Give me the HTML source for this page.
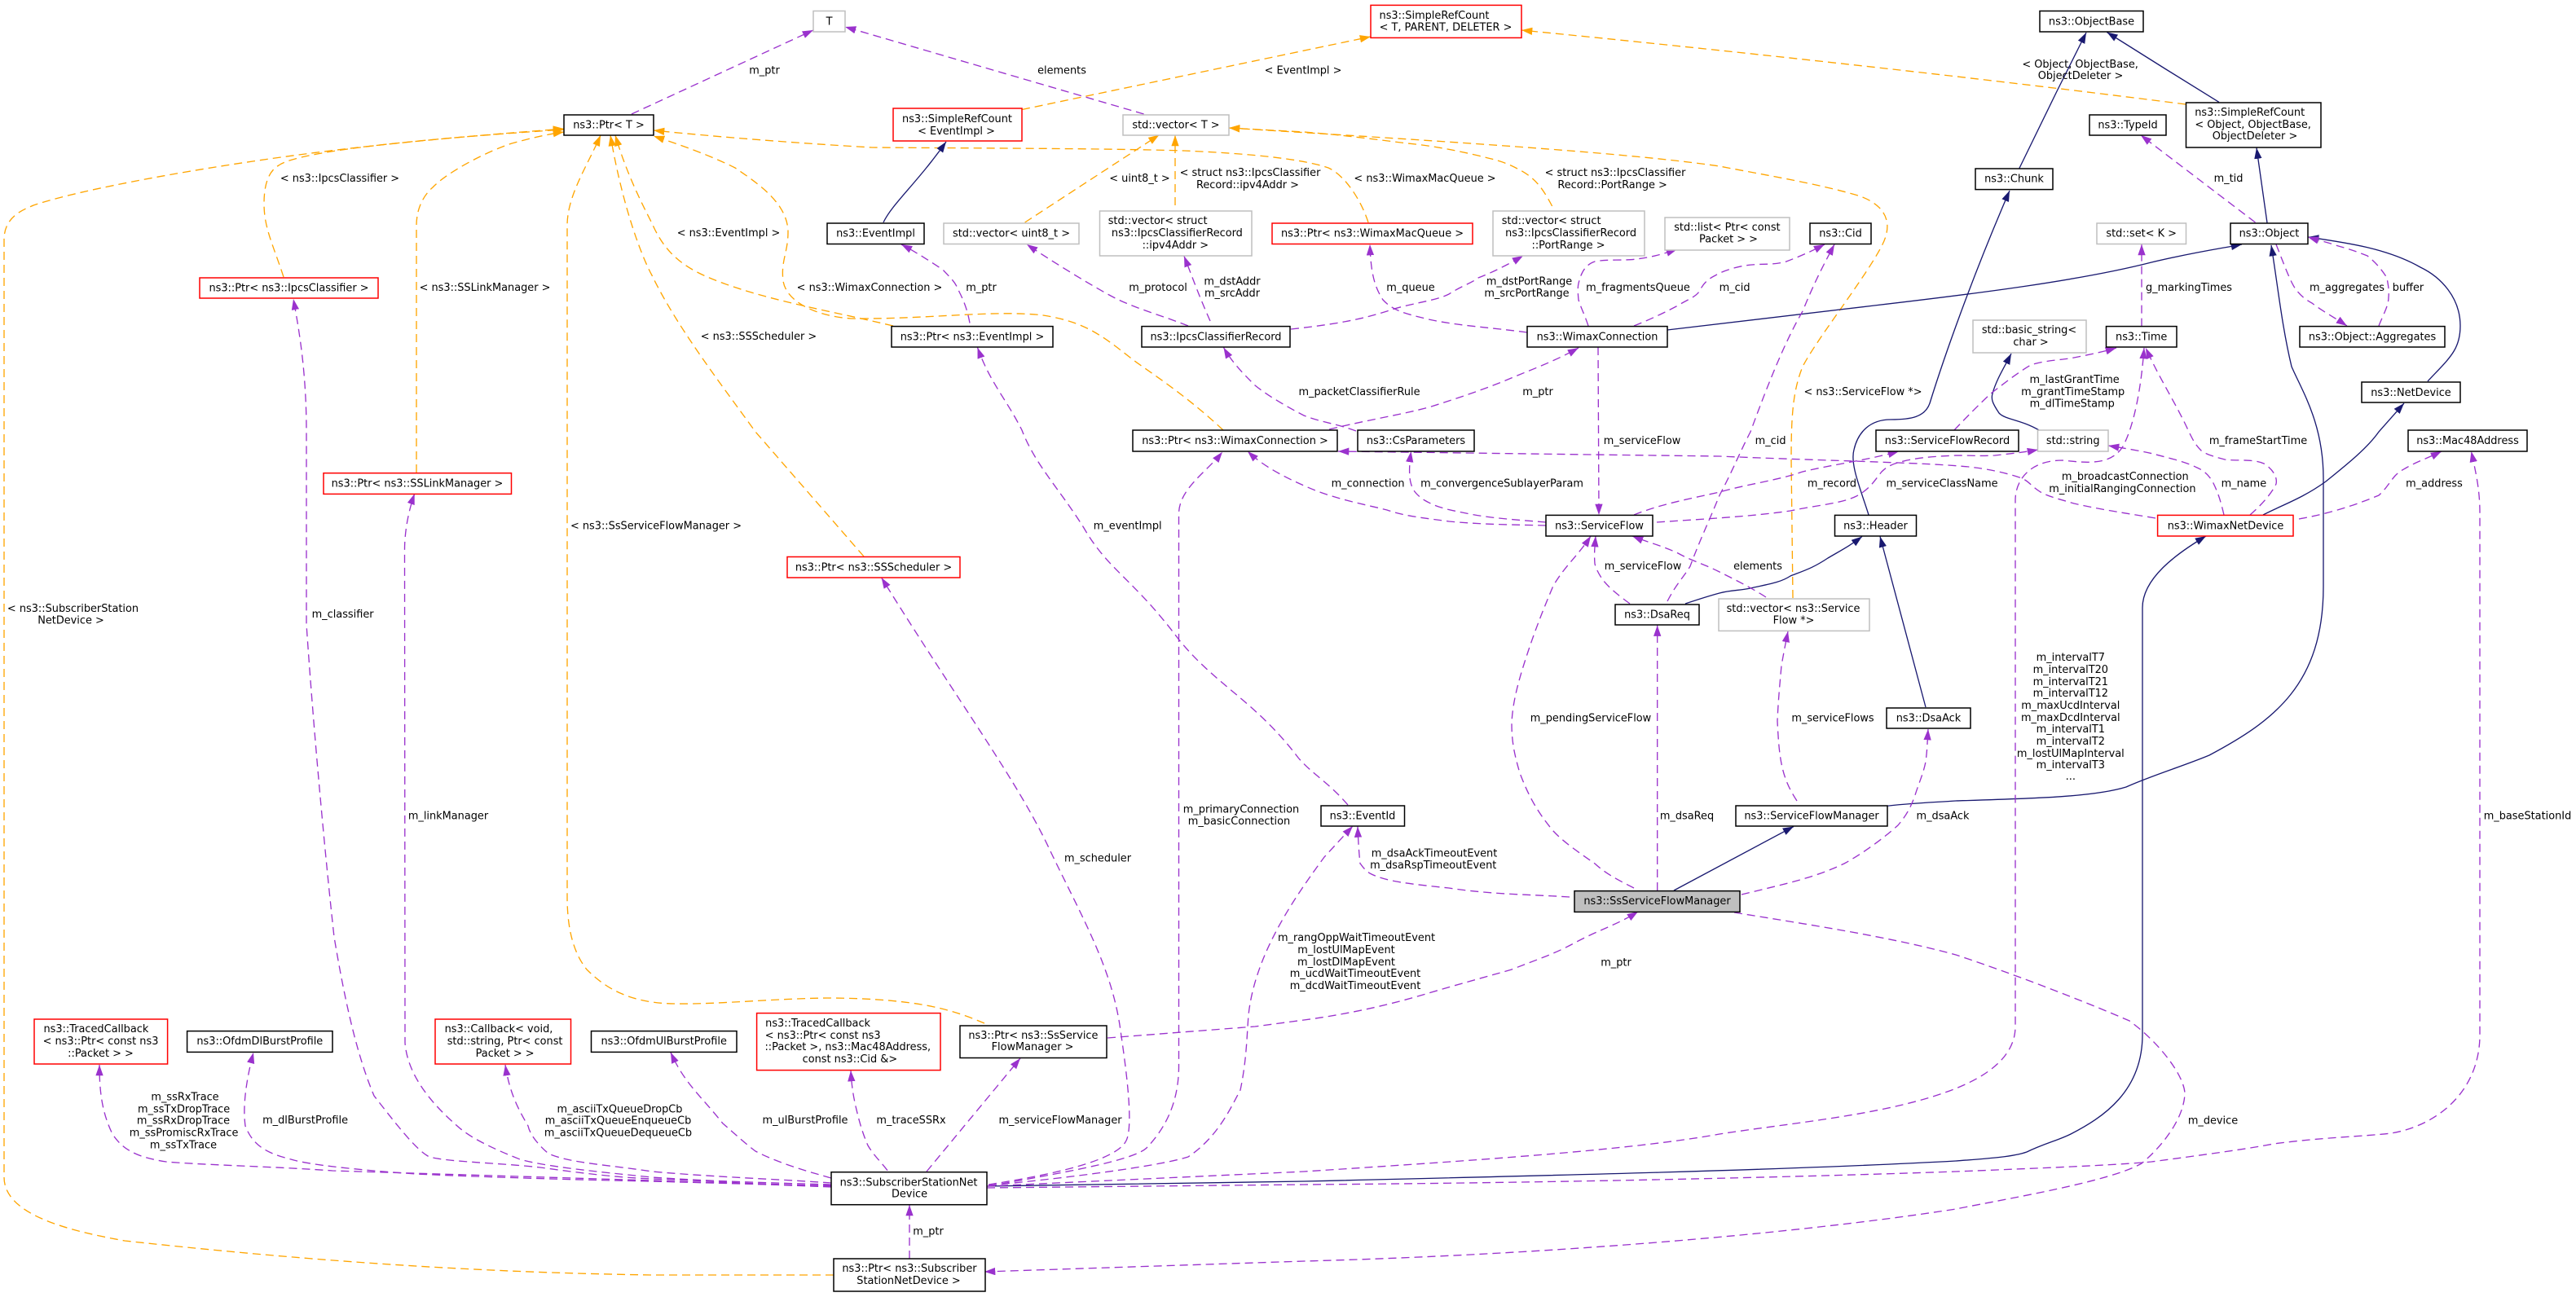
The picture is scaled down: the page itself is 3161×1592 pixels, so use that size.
<!DOCTYPE html>
<html><head><meta charset="utf-8"><style>
html,body{margin:0;padding:0;background:#fff}
svg{display:block}
text{font-family:"DejaVu Sans","Liberation Sans",sans-serif;font-size:12.9px;fill:#000;text-anchor:middle}
</style></head><body>
<svg xmlns="http://www.w3.org/2000/svg" width="3161" height="1592" viewBox="0 0 3161 1592">
<defs>
<marker id="p" markerUnits="userSpaceOnUse" markerWidth="14" markerHeight="10" refX="13.3" refY="4.67" orient="auto"><path d="M0,0L13.3,4.67L0,9.33z" fill="#9a32cd"/></marker>
<marker id="o" markerUnits="userSpaceOnUse" markerWidth="14" markerHeight="10" refX="13.3" refY="4.67" orient="auto"><path d="M0,0L13.3,4.67L0,9.33z" fill="#ffa500"/></marker>
<marker id="n" markerUnits="userSpaceOnUse" markerWidth="14" markerHeight="10" refX="13.3" refY="4.67" orient="auto"><path d="M0,0L13.3,4.67L0,9.33z" fill="#191970"/></marker>
</defs>
<rect width="3161" height="1592" fill="#fff"/>

<g fill="none" stroke="#ffa500" stroke-width="1.33" stroke-dasharray="10,6" marker-end="url(#o)">
<path d="M1254,134.5L1682,45"/>
<path d="M2682,128C2400,92 2100,60 1867,37"/>
<path d="M348,340C335,300 324,280 324,250C324,225 330,210 342,203C360,190 450,175 692,159"/>
<path d="M1023,1565L800,1565C600,1562 400,1550 153,1523C80,1510 5,1490 5,1445L5,294C5,265 30,257 41,252C100,232 250,205 382,188C480,175 600,165 692,158"/>
<path d="M511,580L511,277C511,250 525,235 531,230C550,210 600,185 628,176C650,170 670,165 692,162"/>
<path d="M1208,1256C1170,1240 1130,1226 1020,1225C960,1225 880,1233 830,1232C770,1232 740,1210 720,1190C700,1165 696,1130 696,1100L696,277C696,240 720,205 737,166"/>
<path d="M1060,683L927,530C880,465 830,400 800,338C790,320 765,260 749,166"/>
<path d="M1096,400C1020,382 960,372 900,352C850,335 820,320 800,274C785,245 768,210 755,166"/>
<path d="M1501,528C1450,480 1400,450 1387,439C1350,410 1330,395 1280,387C1220,380 1140,392 1045,391C1000,388 965,370 961,345C958,320 967,310 967,285C967,250 930,225 902,206C870,190 835,178 802,167"/>
<path d="M1257.6,273L1422.4,165.6"/>
<path d="M1442,252L1442,166"/>
<path d="M1679,273C1670,245 1650,215 1630,206C1590,192 1500,187 1453,185C1350,182 1200,182 1070,181C1000,177 900,170 802,160"/>
<path d="M1904.6,253C1890,225 1880,216 1860,206C1845,198 1830,195 1814,191C1780,183 1750,178 1727,176C1680,170 1640,165 1600,162L1508,157"/>
<path d="M2200,734L2198,564C2198,510 2200,480 2212,450C2230,415 2290,340 2310,300C2325,270 2310,250 2280,240C2230,225 2150,212 2110,204C2000,188 1800,175 1508,157"/>
</g>

<g fill="none" stroke="#191970" stroke-width="1.33" marker-end="url(#n)">
<path d="M1084,273C1095,250 1125,225 1161,174"/>
<path d="M2477.7,207L2524,112L2560,40"/>
<path d="M2723,125.4L2657,84.5L2585.4,39.5"/>
<path d="M2782,273.5L2769,181.5"/>
<path d="M2046,405L2300,375C2420,361 2550,345 2640,322C2690,310 2725,305 2751,300"/>
<path d="M2293,632C2283,600 2270,570 2275,552C2280,530 2295,515 2320,515C2345,515 2362,512 2368,495C2385,440 2420,340 2466,234"/>
<path d="M2310,990C2340,986 2370,985 2400,983C2500,980 2570,978 2609,966C2640,952 2680,940 2711,927C2790,885 2851,840 2851,720L2851,587C2851,520 2825,480 2812,450C2800,400 2795,350 2787,301"/>
<path d="M2777,632C2800,620 2825,612 2854,591C2880,570 2905,550 2919,530L2950,495"/>
<path d="M2979,468C3005,440 3019,430 3019,400C3019,365 2995,340 2970,328C2930,305 2880,298 2832,291"/>
<path d="M1211,1456L1600,1450C1900,1443 2200,1436 2400,1425C2440,1422 2470,1420 2487,1414C2510,1403 2525,1400 2541,1392C2580,1372 2629,1340 2629,1270L2629,746C2629,710 2670,680 2707,658"/>
<path d="M2054,1093L2201,1014.5"/>
<path d="M2068,741C2080,737 2095,732 2110,728C2125,724 2135,725 2148,722C2170,717 2185,715 2197,707C2215,700 2225,697 2243,685C2260,675 2270,670 2285,658.5"/>
<path d="M2363,868L2307,658.5"/>
<path d="M2502,528C2480,515 2460,515 2453,507C2445,495 2443,490 2445,483C2450,465 2460,450 2468,434"/>
</g>

<g fill="none" stroke="#9a32cd" stroke-width="1.33" stroke-dasharray="10,6" marker-end="url(#p)">
<path d="M775,140L998,37"/>
<path d="M1403.6,140L1037,33"/>
<path d="M1654,988C1630,960 1610,950 1593,930C1540,860 1490,840 1445,783C1390,710 1360,700 1330,648C1300,600 1270,570 1254,528C1235,490 1215,470 1199.5,426.6"/>
<path d="M1190,396.5C1187,380 1183,370 1177,358C1172,345 1165,340 1157,331C1140,320 1125,310 1106,300"/>
<path d="M1458,400C1420,385 1390,378 1361,362C1330,345 1290,320 1260,300"/>
<path d="M1485,394C1470,360 1465,345 1453,314.4"/>
<path d="M1874,408C1830,402 1790,400 1753,392C1725,385 1710,382 1697,368C1685,350 1682,330 1681,300"/>
<path d="M1584,404C1640,398 1670,392 1702,382C1730,372 1760,370 1778,361C1795,350 1805,348 1814,341C1830,335 1850,325 1869,314"/>
<path d="M1949,400C1944,385 1940,378 1937,368C1936,358 1936,352 1937,348C1940,335 1945,325 1957,321C1970,318 1995,320 2008,318C2025,316 2040,312 2058,306"/>
<path d="M2005,400C2025,392 2040,385 2059,375C2070,368 2080,365 2085,358C2090,348 2095,343 2105,338C2115,332 2130,328 2141,326C2160,323 2175,326 2192,321C2205,316 2220,310 2239,300"/>
<path d="M2046,738C2058,715 2065,710 2074,695C2085,665 2097,640 2110,608C2125,580 2135,555 2148,530C2170,470 2190,420 2212,382C2225,350 2235,330 2251,300"/>
<path d="M1631,527C1680,515 1715,510 1753,500C1785,490 1815,480 1845,468C1875,455 1905,445 1937,427"/>
<path d="M1961,426L1962,632"/>
<path d="M1664,529C1640,520 1620,518 1600,510C1575,497 1555,485 1540,473C1525,458 1512,445 1501.5,426.6"/>
<path d="M1897,645C1860,644 1820,644 1778,640C1750,636 1725,634 1702,626C1670,618 1635,612 1600,596C1575,585 1550,572 1531,554"/>
<path d="M1897,641C1860,638 1830,636 1804,631C1780,626 1765,624 1748,614C1736,606 1732,600 1730,587C1729,575 1730,565 1731.6,554"/>
<path d="M2005,632C2040,618 2075,612 2110,604C2145,594 2180,590 2212,579C2250,570 2290,565 2330,554"/>
<path d="M2033,641C2090,637 2150,634 2197,627C2230,620 2260,618 2278,609C2295,600 2300,590 2309,579C2318,570 2328,568 2340,565C2365,560 2385,560 2400,559C2420,559 2430,560 2448,559C2465,557 2485,555 2501,552"/>
<path d="M2645,636C2610,630 2580,626 2545,618C2525,612 2515,610 2504,604C2490,595 2490,590 2478,586C2460,580 2440,576 2424,574C2380,568 2250,566 2110,560C1950,558 1800,556 1642,554"/>
<path d="M2000,741C1985,730 1975,722 1967,712C1960,702 1958,696 1957,692C1956,680 1957,670 1958,658"/>
<path d="M2167,733C2150,722 2130,712 2110,702C2090,692 2075,688 2059,679C2040,670 2020,665 2003,658"/>
<path d="M2005,1090C1985,1080 1970,1072 1957,1060C1940,1048 1920,1035 1906,1020C1885,995 1875,975 1865,949C1858,925 1855,910 1855,888C1856,860 1865,830 1875,800C1885,770 1895,745 1906,719C1920,695 1938,680 1952,658"/>
<path d="M2033.7,1093L2033.7,767.6"/>
<path d="M2205,983C2195,968 2190,955 2187,942C2183,925 2182,905 2181,885C2182,860 2184,840 2186,817C2189,800 2191,790 2194,775"/>
<path d="M2137,1098C2190,1085 2225,1078 2263,1060C2285,1048 2310,1030 2329,1013C2340,1000 2345,990 2350,976C2355,960 2360,950 2363,935C2365,920 2365,910 2366,895"/>
<path d="M1926,1101C1880,1098 1830,1098 1778,1090C1730,1085 1700,1082 1681,1072C1672,1066 1670,1060 1669,1060C1668,1050 1667,1040 1666,1014.5"/>
<path d="M1213,1454C1290,1442 1370,1425 1382,1400C1392,1380 1380,1300 1375,1265C1365,1190 1330,1130 1290,1047C1250,960 1180,868 1081.6,709"/>
<path d="M1213,1456C1300,1440 1390,1425 1407,1409C1425,1390 1446,1360 1446.5,1310L1446.5,631C1446.5,600 1480,580 1500,554.7"/>
<path d="M1213,1455C1300,1447 1420,1432 1458,1420C1495,1395 1510,1360 1522,1338C1530,1300 1530,1270 1532,1246C1540,1170 1590,1100 1625,1052L1660,1014"/>
<path d="M1137,1438L1252,1299"/>
<path d="M1089,1436.7C1080,1425 1072,1418 1065,1406C1058,1390 1054,1375 1050,1358C1046,1340 1045,1330 1044,1314"/>
<path d="M1020,1446C980,1435 950,1425 927,1413C910,1400 900,1390 887,1379C860,1345 840,1330 823,1291.8"/>
<path d="M1116,1545L1116,1479"/>
<path d="M2128,1120C2220,1135 2320,1150 2400,1172C2470,1195 2560,1230 2613,1253C2650,1280 2680,1320 2681,1342C2680,1375 2650,1410 2628,1428C2590,1450 2470,1470 2400,1484C2200,1515 1900,1540 1600,1548L1208,1561"/>
<path d="M1211,1456L1600,1438C1800,1425 2000,1412 2110,1392C2200,1378 2320,1368 2400,1336C2450,1316 2473,1290 2473,1260L2473,614C2473,590 2490,565 2531,565C2560,568 2590,572 2605,548C2620,520 2628,470 2631,427"/>
<path d="M1211,1458L1600,1454C1900,1452 2200,1445 2400,1438C2500,1434 2600,1430 2640,1426C2700,1418 2760,1410 2790,1404C2850,1396 2900,1395 2934,1391C2990,1382 3043,1340 3043,1270L3043,630C3043,600 3038,580 3032.5,554"/>
<path d="M1020,1457C950,1454 880,1452 800,1449L408,1437C340,1432 250,1430 204,1426C165,1420 150,1410 138,1392C125,1365 122,1340 122,1307"/>
<path d="M1020,1456C950,1454 870,1452 800,1450C700,1448 600,1445 510,1441C440,1436 380,1430 357,1423C325,1415 310,1405 301,1382C298,1360 301,1330 311,1292"/>
<path d="M1020,1455C950,1455 880,1450 800,1447C750,1445 700,1438 663,1433C610,1427 540,1426 525,1419C510,1410 490,1385 459,1345C440,1300 425,1240 410,1150C400,1060 385,900 376,766L376,530C376,460 368,410 360,367"/>
<path d="M1020,1454C950,1452 870,1450 800,1445C730,1438 670,1432 638,1423C600,1408 575,1395 561,1382C530,1355 500,1320 497,1280L496.5,675C496.5,650 502,625 508.7,606"/>
<path d="M1020,1452C950,1447 880,1445 800,1438C750,1430 700,1428 673,1416C660,1405 650,1392 648,1382C635,1360 625,1340 620,1307"/>
<path d="M2628,400.6L2628,300"/>
<path d="M2767.5,273L2627,166"/>
<path d="M2793,300C2803,325 2810,345 2817,355C2825,365 2830,368 2837,372C2850,382 2865,390 2880,400"/>
<path d="M2919,400C2925,385 2931,375 2931,365C2932,355 2930,348 2929,341C2922,330 2915,322 2905,314C2890,308 2880,305 2866,301C2855,297 2845,295 2832,291"/>
<path d="M2398,528C2415,510 2430,495 2443,483C2460,470 2475,458 2492,448C2510,442 2530,442 2545,439C2565,435 2580,432 2597,427"/>
<path d="M2761,632C2775,620 2788,605 2793,594C2795,585 2788,575 2778,569C2765,563 2745,566 2730,564C2715,560 2708,558 2701,553C2693,545 2690,538 2686,530C2670,495 2650,465 2633,427"/>
<path d="M2729,632C2725,615 2722,605 2715,591C2710,583 2705,578 2696,574C2680,566 2660,562 2642,557C2625,553 2605,550 2587,547"/>
<path d="M2821,637C2860,630 2890,620 2919,608C2928,600 2932,592 2939,584C2945,578 2948,577 2953,574C2965,567 2980,562 2996,554"/>
<path d="M1359,1274L1540,1260L1600,1252C1660,1244 1710,1232 1753,1219C1790,1208 1820,1200 1855,1190C1885,1178 1905,1172 1931,1158C1960,1142 1985,1135 2010,1119"/>
</g>

<g stroke-width="1.5" fill="#fff">
<g stroke="#000">
<rect x="692" y="141" width="110" height="25"/>
<rect x="1015" y="274" width="119" height="25.5"/>
<rect x="1094" y="400.6" width="198" height="25.4"/>
<rect x="1401" y="400.6" width="182" height="25.4"/>
<rect x="1390" y="528" width="251" height="26"/>
<rect x="1666" y="528" width="143" height="26"/>
<rect x="1874" y="400.6" width="172" height="25.4"/>
<rect x="2221" y="274" width="75" height="25.5"/>
<rect x="2503" y="13.5" width="127" height="25.5"/>
<rect x="2682.5" y="126" width="165.5" height="55"/>
<rect x="2564" y="141" width="94" height="25"/>
<rect x="2424" y="207" width="95" height="25.6"/>
<rect x="2737" y="274" width="95" height="25.5"/>
<rect x="2584.5" y="400.6" width="86.5" height="25.4"/>
<rect x="2822" y="400.6" width="178" height="25.4"/>
<rect x="2898" y="469" width="121" height="25"/>
<rect x="2302" y="528" width="175" height="26"/>
<rect x="2955" y="528" width="146" height="26"/>
<rect x="1897" y="632.4" width="131" height="25.6"/>
<rect x="2251.5" y="632.4" width="100" height="25.6"/>
<rect x="1982" y="742" width="103" height="25"/>
<rect x="2315" y="869" width="103" height="25"/>
<rect x="1621" y="989" width="102.5" height="25"/>
<rect x="2130" y="989" width="186" height="25"/>
<rect x="229.6" y="1265.6" width="178.4" height="25.8"/>
<rect x="725.5" y="1265.6" width="178.5" height="25.8"/>
<rect x="1178" y="1259" width="180" height="39.5"/>
<rect x="1020" y="1438.7" width="191" height="40"/>
<rect x="1023" y="1545" width="186" height="40"/>
<rect x="1932" y="1093.6" width="203" height="25.8" fill="#bfbfbf"/>
</g>
<g stroke="#bfbfbf">
<rect x="998" y="13.5" width="39" height="25.5"/>
<rect x="1378" y="141" width="130" height="25"/>
<rect x="1158" y="274" width="166" height="25.5"/>
<rect x="1349.5" y="259" width="186.5" height="55"/>
<rect x="1832" y="259" width="186" height="55"/>
<rect x="2043" y="267" width="153" height="40"/>
<rect x="2573" y="274" width="109.5" height="25.5"/>
<rect x="2421" y="393" width="139" height="40"/>
<rect x="2500.5" y="528" width="86.5" height="26"/>
<rect x="2109" y="735" width="185" height="39.4"/>
</g>
<g stroke="#f00">
<rect x="245" y="341" width="219" height="25"/>
<rect x="1096" y="133" width="158" height="40"/>
<rect x="1561" y="274" width="246" height="25.5"/>
<rect x="1682" y="6.4" width="185" height="40"/>
<rect x="2647.6" y="632.4" width="166.4" height="25.6"/>
<rect x="966" y="683.5" width="212" height="25.5"/>
<rect x="397" y="580.7" width="230.5" height="25.7"/>
<rect x="42" y="1251" width="163.6" height="55"/>
<rect x="534" y="1251" width="166.5" height="55"/>
<rect x="928.6" y="1243.6" width="225.4" height="70"/>
</g>
</g>

<g>
<text x="747" y="157.3">ns3::Ptr&lt; T &gt;</text>
<text x="354.5" y="357.5">ns3::Ptr&lt; ns3::IpcsClassifier &gt;</text>
<text x="1017.5" y="30.5">T</text>
<text x="1174.5" y="150">ns3::SimpleRefCount</text>
<text x="1173.5" y="165">&lt; EventImpl &gt;</text>
<text x="1443" y="157.3">std::vector&lt; T &gt;</text>
<text x="1074.5" y="290.5">ns3::EventImpl</text>
<text x="1241" y="290.5">std::vector&lt; uint8_t &gt;</text>
<text x="1420.6" y="275">std::vector&lt; struct</text>
<text x="1444.4" y="290">ns3::IpcsClassifierRecord</text>
<text x="1442.3" y="305">::ipv4Addr &gt;</text>
<text x="1684" y="290.5">ns3::Ptr&lt; ns3::WimaxMacQueue &gt;</text>
<text x="1193" y="417.5">ns3::Ptr&lt; ns3::EventImpl &gt;</text>
<text x="1492" y="417.5">ns3::IpcsClassifierRecord</text>
<text x="1760" y="23">ns3::SimpleRefCount</text>
<text x="1774" y="37.5">&lt; T, PARENT, DELETER &gt;</text>
<text x="1903.6" y="275">std::vector&lt; struct</text>
<text x="1927.6" y="290">ns3::IpcsClassifierRecord</text>
<text x="1924.5" y="305">::PortRange &gt;</text>
<text x="2119.4" y="283">std::list&lt; Ptr&lt; const</text>
<text x="2121" y="297.5">Packet &gt; &gt;</text>
<text x="2258.5" y="290.5">ns3::Cid</text>
<text x="1960" y="417.5">ns3::WimaxConnection</text>
<text x="1515.5" y="545">ns3::Ptr&lt; ns3::WimaxConnection &gt;</text>
<text x="1737.5" y="545">ns3::CsParameters</text>
<text x="2566.5" y="30.5">ns3::ObjectBase</text>
<text x="2760.7" y="142">ns3::SimpleRefCount</text>
<text x="2764.6" y="157">&lt; Object, ObjectBase,</text>
<text x="2767" y="171">ObjectDeleter &gt;</text>
<text x="2611" y="157.3">ns3::TypeId</text>
<text x="2471.5" y="223.5">ns3::Chunk</text>
<text x="2784.5" y="290.5">ns3::Object</text>
<text x="2627.7" y="290.5">std::set&lt; K &gt;</text>
<text x="2490" y="409">std::basic_string&lt;</text>
<text x="2492" y="424">char &gt;</text>
<text x="2627.7" y="417.5">ns3::Time</text>
<text x="2911" y="417.5">ns3::Object::Aggregates</text>
<text x="2958.5" y="486">ns3::NetDevice</text>
<text x="2389.5" y="545">ns3::ServiceFlowRecord</text>
<text x="2543.7" y="545">std::string</text>
<text x="3028" y="545">ns3::Mac48Address</text>
<text x="2731" y="649.5">ns3::WimaxNetDevice</text>
<text x="1962.5" y="649.5">ns3::ServiceFlow</text>
<text x="2301.5" y="649.5">ns3::Header</text>
<text x="2033.5" y="758.5">ns3::DsaReq</text>
<text x="2200.5" y="751">std::vector&lt; ns3::Service</text>
<text x="2201" y="765.5">Flow *&gt;</text>
<text x="2366.5" y="885.5">ns3::DsaAck</text>
<text x="1672" y="1005.5">ns3::EventId</text>
<text x="2223" y="1005.5">ns3::ServiceFlowManager</text>
<text x="1072" y="700.5">ns3::Ptr&lt; ns3::SSScheduler &gt;</text>
<text x="512" y="597.5">ns3::Ptr&lt; ns3::SSLinkManager &gt;</text>
<text x="2033.5" y="1110">ns3::SsServiceFlowManager</text>
<text x="117.9" y="1267">ns3::TracedCallback</text>
<text x="123.5" y="1282">&lt; ns3::Ptr&lt; const ns3</text>
<text x="123.5" y="1297">::Packet &gt; &gt;</text>
<text x="318.8" y="1282">ns3::OfdmDlBurstProfile</text>
<text x="612" y="1267">ns3::Callback&lt; void,</text>
<text x="619.6" y="1282">std::string, Ptr&lt; const</text>
<text x="619.6" y="1297">Packet &gt; &gt;</text>
<text x="814.7" y="1282">ns3::OfdmUlBurstProfile</text>
<text x="1003.6" y="1260">ns3::TracedCallback</text>
<text x="1009.7" y="1275">&lt; ns3::Ptr&lt; const ns3</text>
<text x="1040.3" y="1289">::Packet &gt;, ns3::Mac48Address,</text>
<text x="1042.9" y="1304">const ns3::Cid &amp;&gt;</text>
<text x="1267.9" y="1275">ns3::Ptr&lt; ns3::SsService</text>
<text x="1267" y="1289">FlowManager &gt;</text>
<text x="1115" y="1455.5">ns3::SubscriberStationNet</text>
<text x="1116" y="1469.5">Device</text>
<text x="1116" y="1561">ns3::Ptr&lt; ns3::Subscriber</text>
<text x="1115" y="1576">StationNetDevice &gt;</text>
</g>

<g>
<text x="417" y="223">&lt; ns3::IpcsClassifier &gt;</text>
<text x="595" y="357">&lt; ns3::SSLinkManager &gt;</text>
<text x="938" y="90.5">m_ptr</text>
<text x="1303" y="90.5">elements</text>
<text x="1599" y="90.5">&lt; EventImpl &gt;</text>
<text x="1398.5" y="223">&lt; uint8_t &gt;</text>
<text x="1534" y="216">&lt; struct ns3::IpcsClassifier</text>
<text x="1531" y="231">Record::ipv4Addr &gt;</text>
<text x="894" y="290">&lt; ns3::EventImpl &gt;</text>
<text x="1067" y="357">&lt; ns3::WimaxConnection &gt;</text>
<text x="1204" y="357">m_ptr</text>
<text x="1421" y="357">m_protocol</text>
<text x="1512" y="349.5">m_dstAddr</text>
<text x="1512" y="364">m_srcAddr</text>
<text x="931" y="417">&lt; ns3::SSScheduler &gt;</text>
<text x="1668" y="485">m_packetClassifierRule</text>
<text x="1748.5" y="223">&lt; ns3::WimaxMacQueue &gt;</text>
<text x="1982" y="216">&lt; struct ns3::IpcsClassifier</text>
<text x="1978.6" y="231">Record::PortRange &gt;</text>
<text x="1731" y="357">m_queue</text>
<text x="1876.5" y="349.5">m_dstPortRange</text>
<text x="1873.5" y="364">m_srcPortRange</text>
<text x="2010" y="357">m_fragmentsQueue</text>
<text x="2128.6" y="357">m_cid</text>
<text x="1887" y="485">m_ptr</text>
<text x="2286" y="485">&lt; ns3::ServiceFlow *&gt;</text>
<text x="2552.6" y="83">&lt; Object, ObjectBase,</text>
<text x="2553" y="97">ObjectDeleter &gt;</text>
<text x="2734.5" y="223">m_tid</text>
<text x="2686" y="357">g_markingTimes</text>
<text x="2880" y="357">m_aggregates</text>
<text x="2955" y="357">buffer</text>
<text x="2545.6" y="470">m_lastGrantTime</text>
<text x="2543.7" y="485">m_grantTimeStamp</text>
<text x="2542.7" y="499.5">m_dlTimeStamp</text>
<text x="2771" y="545">m_frameStartTime</text>
<text x="2015" y="545">m_serviceFlow</text>
<text x="2172.6" y="545">m_cid</text>
<text x="1678.6" y="597.5">m_connection</text>
<text x="1843" y="597.5">m_convergenceSublayerParam</text>
<text x="2248" y="597.5">m_record</text>
<text x="2383" y="597.5">m_serviceClassName</text>
<text x="2016" y="699">m_serviceFlow</text>
<text x="2157" y="699">elements</text>
<text x="1952" y="885.5">m_pendingServiceFlow</text>
<text x="2249" y="885.5">m_serviceFlows</text>
<text x="2070" y="1005.5">m_dsaReq</text>
<text x="2384" y="1005.5">m_dsaAck</text>
<text x="1760" y="1051.5">m_dsaAckTimeoutEvent</text>
<text x="1758.7" y="1066">m_dsaRspTimeoutEvent</text>
<text x="2607.8" y="589">m_broadcastConnection</text>
<text x="2604.4" y="604">m_initialRangingConnection</text>
<text x="2753.4" y="597.5">m_name</text>
<text x="2987" y="597.5">m_address</text>
<text x="2540.8" y="811">m_intervalT7</text>
<text x="2540.8" y="826">m_intervalT20</text>
<text x="2540.8" y="841">m_intervalT21</text>
<text x="2540.8" y="855">m_intervalT12</text>
<text x="2540.8" y="870">m_maxUcdInterval</text>
<text x="2540.8" y="885">m_maxDcdInterval</text>
<text x="2540.8" y="899">m_intervalT1</text>
<text x="2540.8" y="914">m_intervalT2</text>
<text x="2540.8" y="929">m_lostUlMapInterval</text>
<text x="2540.8" y="943">m_intervalT3</text>
<text x="2540.8" y="957">...</text>
<text x="3101.5" y="1005.5">m_baseStationId</text>
<text x="89.5" y="751">&lt; ns3::SubscriberStation</text>
<text x="87" y="765.5">NetDevice &gt;</text>
<text x="420.6" y="758">m_classifier</text>
<text x="550" y="1005.5">m_linkManager</text>
<text x="805" y="649.5">&lt; ns3::SsServiceFlowManager &gt;</text>
<text x="1383.7" y="649.5">m_eventImpl</text>
<text x="1523" y="997.5">m_primaryConnection</text>
<text x="1520.5" y="1012">m_basicConnection</text>
<text x="1347" y="1057.5">m_scheduler</text>
<text x="227" y="1350.5">m_ssRxTrace</text>
<text x="225.6" y="1365.5">m_ssTxDropTrace</text>
<text x="225" y="1379.5">m_ssRxDropTrace</text>
<text x="225.6" y="1394.5">m_ssPromiscRxTrace</text>
<text x="225" y="1409.5">m_ssTxTrace</text>
<text x="374.6" y="1379">m_dlBurstProfile</text>
<text x="760.5" y="1365.5">m_asciiTxQueueDropCb</text>
<text x="758.5" y="1379.5">m_asciiTxQueueEnqueueCb</text>
<text x="758.5" y="1394.5">m_asciiTxQueueDequeueCb</text>
<text x="988" y="1379">m_ulBurstProfile</text>
<text x="1118" y="1379">m_traceSSRx</text>
<text x="1301" y="1379">m_serviceFlowManager</text>
<text x="1139" y="1515.5">m_ptr</text>
<text x="1664.5" y="1155">m_rangOppWaitTimeoutEvent</text>
<text x="1652" y="1170">m_lostUlMapEvent</text>
<text x="1652" y="1185">m_lostDlMapEvent</text>
<text x="1663" y="1199">m_ucdWaitTimeoutEvent</text>
<text x="1663" y="1214">m_dcdWaitTimeoutEvent</text>
<text x="1983" y="1185.5">m_ptr</text>
<text x="2715.5" y="1379.5">m_device</text>
</g>
</svg>
</body></html>
